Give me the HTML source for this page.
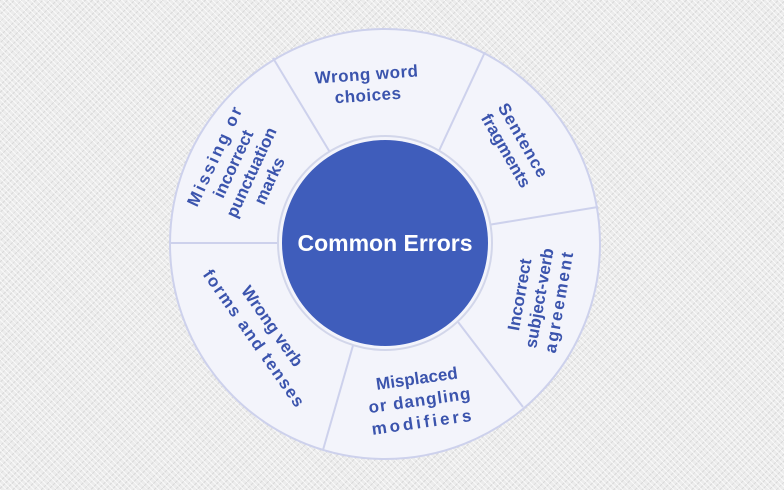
<!DOCTYPE html>
<html><head><meta charset="utf-8"><style>
html,body{margin:0;padding:0;}
body{width:784px;height:490px;overflow:hidden;background-color:#ececec;
background-image:repeating-linear-gradient(45deg,rgba(255,255,255,0.7) 0 1px,transparent 1px 4px),repeating-linear-gradient(-45deg,rgba(200,200,200,0.5) 0 1px,transparent 1px 5px);}
svg{position:absolute;left:0;top:0;}
text{font-family:"Liberation Sans",Arial,sans-serif;font-weight:bold;fill:#3b54ad;font-size:17px;text-anchor:middle;}
</style></head><body>
<svg width="784" height="490" viewBox="0 0 784 490">
<circle cx="385" cy="244" r="215" fill="#f3f4fb" stroke="#cdd1ec" stroke-width="2"/>
<g stroke="#cdd1ec" stroke-width="2">
<line x1="170" y1="243" x2="282" y2="243"/>
<line x1="273" y1="58" x2="331" y2="154"/>
<line x1="485" y1="52" x2="438" y2="153"/>
<line x1="598" y1="207" x2="488" y2="225"/>
<line x1="523" y1="407" x2="455" y2="318"/>
<line x1="323" y1="450" x2="354" y2="342"/>
</g>
<circle cx="385" cy="243" r="107" fill="#f3f4fb" stroke="#d2d6ea" stroke-width="2"/>
<circle cx="385" cy="243" r="103" fill="#3f5dbb"/>
<text x="385" y="251" style="fill:#fff;font-size:23px">Common Errors</text>
<text transform="translate(367,80) rotate(-4)" letter-spacing="0.5"><tspan x="0" y="0">Wrong word</tspan><tspan x="0" y="21">choices</tspan></text>
<text transform="translate(514,146) rotate(60)" letter-spacing="1"><tspan x="0" y="-5">Sentence</tspan><tspan x="0" y="15" letter-spacing="0">fragments</tspan></text>
<text transform="translate(539,298) rotate(-80)"><tspan x="0" y="-14">Incorrect</tspan><tspan x="0" y="6">subject-verb</tspan><tspan x="0" y="26" letter-spacing="2">agreement</tspan></text>
<text transform="translate(419,394) rotate(-8)"><tspan x="0" y="-10">Misplaced</tspan><tspan x="0" y="12" letter-spacing="1">or dangling</tspan><tspan x="0" y="34" letter-spacing="3">modifiers</tspan></text>
<text transform="translate(261,334) rotate(55)"><tspan x="0" y="-8">Wrong verb</tspan><tspan x="0" y="14" letter-spacing="1.5">forms and tenses</tspan></text>
<text transform="translate(242,168) rotate(-65)"><tspan x="0" y="-24" letter-spacing="2.5">Missing or</tspan><tspan x="0" y="-4">incorrect</tspan><tspan x="0" y="16">punctuation</tspan><tspan x="0" y="36">marks</tspan></text>
</svg>
</body></html>
